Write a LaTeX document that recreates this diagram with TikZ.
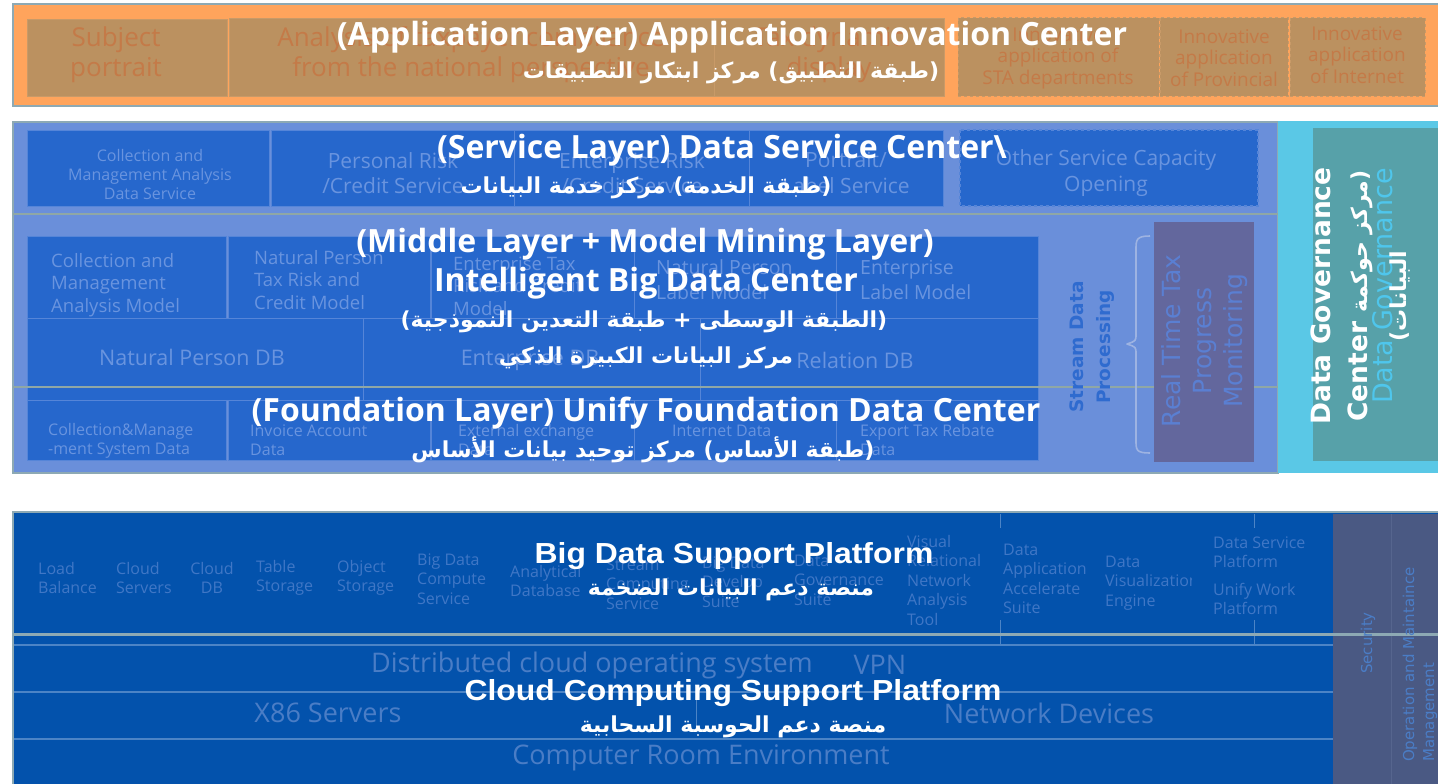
\documentclass[tikz,border=0pt]{standalone}
\usepackage{fontspec}
\setmainfont{Open Sans}
\newfontfamily\arab[Script=Arabic]{DejaVu Sans}
\newfontfamily\dvs{DejaVu Sans}
\newfontfamily\libs[FakeStretch=1.1]{Liberation Sans}
\TeXXeTstate=1
\newcommand\fsz[2]{\fontsize{#1}{#2}\selectfont}
\definecolor{orangeC}{HTML}{FFA45C}
\definecolor{tanC}{HTML}{BB9160}
\definecolor{tanL}{HTML}{C89A68}
\definecolor{appT}{HTML}{C47A48}
\definecolor{frameC}{HTML}{8DA9B4}
\definecolor{lblue}{HTML}{6A8FDA}
\definecolor{boxB}{HTML}{2667CC}
\definecolor{boxL}{HTML}{5585D8}
\definecolor{mtxt}{HTML}{6994DF}
\definecolor{cyanC}{HTML}{5AC8E6}
\definecolor{cyanT}{HTML}{4FC6EC}
\definecolor{tealC}{HTML}{57A1A9}
\definecolor{purpC}{HTML}{63679D}
\definecolor{purpT}{HTML}{5A7FD2}
\definecolor{streamT}{HTML}{2F6BCF}
\definecolor{braceC}{HTML}{9DB3E2}
\definecolor{dblue}{HTML}{0352AC}
\definecolor{slateC}{HTML}{4A5983}
\definecolor{slateL}{HTML}{56658E}
\definecolor{cltxt}{HTML}{4A7DC6}
\definecolor{bdtxt}{HTML}{4077C6}
\definecolor{rowL}{HTML}{4C84C6}
\definecolor{divC}{HTML}{8FA7A5}
\begin{document}
\begin{tikzpicture}[x=1pt,y=-1pt,
  appbox/.style={fill=tanC,draw=tanL,line width=0.8},
  appdash/.style={fill=tanC,draw=tanL,dashed,line width=1},
  bbox/.style={fill=boxB,draw=boxL,line width=1},
  bdash/.style={fill=boxB,draw=boxL,dashed,line width=1.2},
  tx/.style={inner sep=0,align=center},
  txl/.style={inner sep=0,align=left,anchor=west},
  apptxt/.style={tx,text=appT,font=\fsz{26}{30}},
  appsm/.style={tx,text=appT,font=\fsz{19}{21.5}},
  svsm/.style={tx,text=mtxt,font=\fsz{16}{19}},
  svtxt/.style={tx,text=mtxt,font=\fsz{21}{25.5}},
  mdtxt/.style={txl,text=mtxt,font=\fsz{18.5}{22.5}},
  mdtwo/.style={txl,text=mtxt,font=\fsz{19.5}{25}},
  dbtxt/.style={tx,text=mtxt,font=\fsz{21.5}{25}},
  fdtxt/.style={txl,text=mtxt,font=\fsz{16}{19}},
  bdt/.style={txl,text=bdtxt,font=\fsz{16}{19.5}},
  clt/.style={tx,text=cltxt,font=\fsz{27}{30}},
  ttl/.style={tx,text=white,font=\bfseries\fsz{32}{36}},
  lttl/.style={tx,text=white,font=\libs\bfseries\fsz{29}{34}},
  ar/.style={tx,text=white,font=\arab\bfseries\fsz{22}{26}}]
\useasboundingbox (0,0) rectangle (1438,784);
\fill[white] (0,0) rectangle (1438,784);

% ---------------- Application layer
\path[fill=orangeC,draw=frameC,line width=2.5] (13,4) rectangle (1442,106);
\path[appbox] (27.5,19) rectangle (227,96);
\path[appbox] (229.5,18) rectangle (714,96);
\path[appbox] (714,18) rectangle (944,96);
\path[appdash] (958,18) rectangle (1159,96);
\path[appdash] (1160,18) rectangle (1288,96);
\path[appdash] (1290,18) rectangle (1425,96);
\node[apptxt] (subj) at (116,55) {Subject\\portrait};
\node[apptxt] (anal) at (471,55) {Analysis of taxpayer compliance\\from the national perspective};
\node[apptxt] (disp) at (829,55) {Tax dynamic\\display};
\node[appsm] (sta) at (1058,58) {Innovative\\application of\\STA departments};
\node[appsm] (prov) at (1224,58) {Innovative\\application\\of Provincial};
\node[appsm] (inet) at (1357,55) {Innovative\\application\\of Internet};
\node[ttl] (appT1) at (732,37) {(Application Layer) Application Innovation Center};
\node[ar] (appT2) at (731,73) {\beginR(طبقة التطبيق) مركز ابتكار التطبيقات\endR};

% ---------------- Service / middle / foundation block
\path[fill=lblue,draw=frameC,line width=2.5] (13,122) rectangle (1278,473);
\path[fill=cyanC] (1278,121) rectangle (1442,473);
\path[fill=tealC] (1313,128) rectangle (1442,461);

% service row
\path[bbox] (27.5,130) rectangle (269,206);
\path[bbox] (271,130) rectangle (514,206);
\path[bbox] (514,130) rectangle (749,206);
\path[bbox] (749,130) rectangle (943,206);
\path[bdash] (960,130) rectangle (1258,206);
\node[svsm] (cmads) at (150,174) {Collection and\\Management Analysis\\Data Service};
\node[svtxt] (prcs) at (393,173) {Personal Risk\\/Credit Service};
\node[svtxt] (ercs) at (632,173) {Enterprise Risk\\/Credit Service};
\node[svtxt] (pls) at (846,173) {Portrait/\\Label Service};
\node[svtxt] (oth) at (1106,173) {Other Service Capacity\\Opening};
\draw[divC,line width=2] (13,214) -- (1278,214);

% middle rows
\path[bbox] (27.5,236) rectangle (226,318);
\path[bbox] (228,236) rectangle (430,318);
\path[bbox] (431.5,236) rectangle (634,318);
\path[bbox] (634,236) rectangle (836,318);
\path[bbox] (836,236) rectangle (1038,318);
\path[bbox] (27.5,318) rectangle (363,400);
\path[bbox] (363,318) rectangle (700,400);
\path[bbox] (700,318) rectangle (1038,400);
% foundation row
\path[bbox] (27.5,400) rectangle (226.5,460);
\path[bbox] (228,400) rectangle (430,460);
\path[bbox] (431.5,400) rectangle (634,460);
\path[bbox] (634,400) rectangle (836,460);
\path[bbox] (836,400) rectangle (1038,460);
\draw[divC,line width=2] (13,387) -- (1278,387);

\node[mdtxt] (cmam) at (51,285) {Collection and\\Management\\Analysis Model};
\node[mdtxt] (nptr) at (254,280) {Natural Person\\Tax Risk and\\Credit Model};
\node[mdtxt] (etrm) at (453,286) {Enterprise Tax\\Risk and Credit\\Model};
\node[mdtwo] (nplm) at (656,280) {Natural Person\\Label Model};
\node[mdtwo] (elm) at (860,280) {Enterprise\\Label Model};
\node[dbtxt] (npdb) at (192,357) {Natural Person DB};
\node[dbtxt] (edb) at (530,360) {Enterprise DB};
\node[dbtxt] (rdb) at (855,360) {Relation DB};
\node[fdtxt] (cmsd) at (48,441) {Collection\&Manage\\-ment System Data};
\node[fdtxt] (iad) at (250,440) {Invoice Account\\Data};
\node[fdtxt] (eed) at (458,440) {External exchange\\Data};
\node[fdtxt] (ind) at (672,431) {Internet Data};
\node[fdtxt] (etrd) at (860,440) {Export Tax Rebate\\Data};

% stream processing, brace, real time box
\node[tx,rotate=90,text=streamT,font=\dvs\bfseries\fsz{18.5}{27}] (sdp) at (1092,347) {Stream Data\\Processing};
\draw[braceC,line width=1.6,line join=round] (1150,236) .. controls (1136,236) and (1136,240) .. (1136,250) -- (1136,334) .. controls (1136,341) .. (1127,344) .. controls (1136,347) .. (1136,354) -- (1136,440) .. controls (1136,450) and (1136,453) .. (1150,453);
\path[fill=purpC] (1154,222) rectangle (1254,462);
\node[tx,rotate=90,text=purpT,font=\dvs\fsz{25}{31}] (rttp) at (1205,341) {Real Time Tax\\Progress\\Monitoring};

% data governance
\node[tx,rotate=90,text=cyanT,font=\dvs\fsz{27}{30}] (dgf) at (1383,286) {Data Governance};
\node[tx,rotate=90,text=white,font=\dvs\bfseries\fsz{26.5}{37}] (dgc) at (1361,296) {Data Governance\\Center {\arab\fsz{22}{37}\beginR(مركز حوكمة\endR}\\[2pt]{\arab\fsz{22}{30}\beginR البيانات)\endR}};

% layer titles
\node[ttl] (svT1) at (722,150) {(Service Layer) Data Service Center\textbackslash};
\node[ar] (svT2) at (646,188) {\beginR(طبقة الخدمة) مركز خدمة البيانات\endR};
\node[ttl] (mdT1) at (645,244) {(Middle Layer + Model Mining Layer)};
\node[ttl] (mdT2) at (646,283) {Intelligent Big Data Center};
\node[ar] (mdT3) at (644,322) {\beginR(الطبقة الوسطى + طبقة التعدين النموذجية)\endR};
\node[ar] (mdT4) at (646,358) {\beginR مركز البيانات الكبيرة الذكي\endR};
\node[ttl] (fdT1) at (646,413) {(Foundation Layer) Unify Foundation Data Center};
\node[ar] (fdT2) at (643,450) {\beginR(طبقة الأساس) مركز توحيد بيانات الأساس\endR};

% ---------------- Big data + cloud platforms
\path[fill=dblue,draw=frameC,line width=2.5] (13,512) rectangle (1442,788);
\path[fill=slateC] (1333,513.5) rectangle (1442,786);
\draw[slateL,line width=1] (1391,513.5) -- (1391,786);
\draw[rowL,line width=1.5] (14,645) -- (1333,645);
\draw[rowL,line width=1.5] (14,692) -- (1333,692);
\draw[rowL,line width=1.5] (14,739) -- (1333,739);
\draw[rowL,line width=0.8] (1000,514) -- (1000,528) (1254,514) -- (1254,528)
  (1000,620) -- (1000,645) (1254,620) -- (1254,645) (696,700) -- (696,730);
\draw[frameC,line width=3] (13,634) -- (1438,634);

\node[bdt] (lb) at (38,578) {Load\\Balance};
\node[bdt] (cs) at (116,578) {Cloud\\Servers};
\node[tx,text=bdtxt,font=\fsz{16}{19.5}] (cdb) at (212,578) {Cloud\\DB};
\node[bdt] (ts) at (256,578) {Table\\Storage};
\node[bdt] (os) at (337,578) {Object\\Storage};
\node[bdt] (bdcs) at (417,579) {Big Data\\Compute\\Service};
\node[bdt] (adb) at (510,581) {Analytical\\Database};
\node[bdt] (scs) at (606,584) {Stream\\Computing\\Service};
\node[bdt] (bdds) at (702,582) {Big Data\\Develop\\Suite};
\node[bdt] (dgs) at (794,580) {Data\\Governance\\Suite};
\node[bdt] (vrna) at (907,580) {Visual\\Relational\\Network\\Analysis\\Tool};
\begin{scope}
\clip (995,530) rectangle (1085,630);
\node[bdt] (daas) at (1003,579) {Data\\Application\\Accelerate\\Suite};
\end{scope}
\begin{scope}
\clip (1095,530) rectangle (1191,630);
\node[bdt] (dve) at (1105,583) {Data\\Visualization\\Engine};
\end{scope}
\node[bdt] (dsp) at (1213,552) {Data Service\\Platform};
\node[bdt] (uwp) at (1213,599) {Unify Work\\Platform};

\node[clt] (dcos) at (592,665) {Distributed cloud operating system};
\node[clt] (vpn) at (880,665) {VPN};
\node[clt] (x86) at (328,713) {X86 Servers};
\node[clt] (nd) at (1049,713) {Network Devices};
\node[clt] (cre) at (701,758) {Computer Room Environment};
\node[tx,rotate=90,text=cltxt,font=\dvs\fsz{15}{19}] (sec) at (1368,643) {Security};
\node[inner sep=0,align=left,anchor=west,rotate=90,text=cltxt,font=\dvs\fsz{15}{20}] (oam) at (1420,762) {Operation and Maintaince\\Management};

\node[lttl] (bdT1) at (734,556) {Big Data Support Platform};
\node[ar] (bdT2) at (731,590) {\beginR منصة دعم البيانات الضخمة\endR};
\node[lttl] (clT1) at (733,693) {Cloud Computing Support Platform};
\node[ar] (clT2) at (733,727) {\beginR منصة دعم الحوسبة السحابية\endR};
\end{tikzpicture}
\end{document}
